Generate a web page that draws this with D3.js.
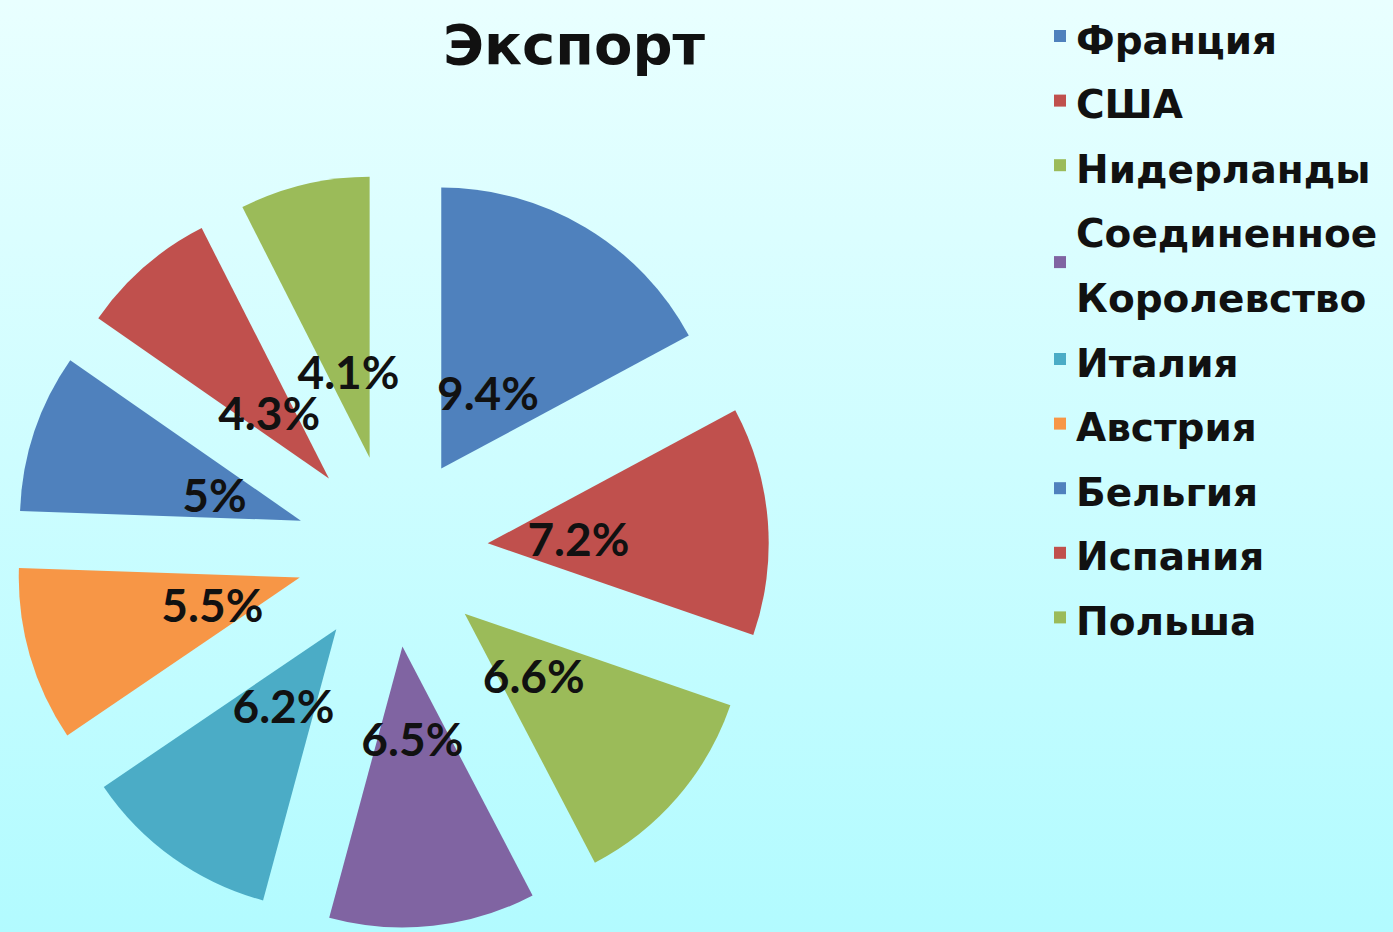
<!DOCTYPE html>
<html>
<head>
<meta charset="utf-8">
<script src="https://cdn.jsdelivr.net/npm/d3@7"></script>
<style>
  body { margin: 0; padding: 0; overflow: hidden; }
</style>
</head>
<body>
<div id="chart"></div>
<script>
const countries = ["Франция", "США", "Нидерланды", "Соединенное Королевство", "Италия", "Австрия", "Бельгия", "Испания", "Польша"];
const shares = [9.4, 7.2, 6.6, 6.5, 6.2, 5.5, 5, 4.3, 4.1];
const palette = ["#4f81bd", "#c0504d", "#9bbb59", "#8064a2", "#4bacc6", "#f79646", "#4f81bd", "#c0504d", "#9bbb59"];

const width = 1393, height = 932;
const cx = 392, cy = 551, radius = 281, explode = 96, labelR = 187;

const svg = d3.select("#chart")
    .append("svg")
    .attr("width", width)
    .attr("height", height);

// background gradient
const grad = svg.append("defs").append("linearGradient")
    .attr("id", "bg")
    .attr("x1", 0).attr("y1", 0).attr("x2", 0).attr("y2", 1);
grad.append("stop").attr("offset", "0%").attr("stop-color", "#e9ffff");
grad.append("stop").attr("offset", "100%").attr("stop-color", "#b2fbff");
svg.append("rect").attr("width", width).attr("height", height).attr("fill", "url(#bg)");

const data = countries.map((c, i) => ({ name: c, value: shares[i], color: palette[i] }));

const pie = d3.pie().value(d => d.value).sort(null);
const arc = d3.arc().innerRadius(0).outerRadius(radius);
const arcs = pie(data);

const g = svg.append("g").attr("transform", `translate(${cx},${cy})`);

const mid = d => (d.startAngle + d.endAngle) / 2;

// exploded slices
g.selectAll("path")
    .data(arcs)
    .join("path")
    .attr("d", arc)
    .attr("fill", d => d.data.color)
    .attr("transform", d => `translate(${explode * Math.sin(mid(d))},${-explode * Math.cos(mid(d))})`);

g.selectAll("text.lbl")
    .data(arcs)
    .join("text")
    .attr("class", "lbl")
    .attr("x", d => labelR * Math.sin(mid(d)))
    .attr("y", d => -labelR * Math.cos(mid(d)) + 2)
    .attr("text-anchor", "middle")
    .attr("dominant-baseline", "central")
    .style("font-family", "Lato, sans-serif")
    .style("font-weight", "bold")
    .style("font-size", "46px")
    .attr("fill", "#111")
    .text(d => d.data.value + "%");

// title
svg.append("text")
    .attr("x", 574)
    .attr("y", 64)
    .attr("text-anchor", "middle")
    .style("font-family", "'DejaVu Sans', sans-serif")
    .style("font-weight", "bold")
    .style("font-size", "56px")
    .attr("fill", "#111")
    .text("Экспорт");

// legend
const legendX = 1054;
const rowH = 64.6;
let y = 40;
data.forEach((d, i) => {
    const words = d.name.split(" ");
    const lines = words.length > 1 ? words : [d.name];
    const blockMid = y + (lines.length - 1) * rowH / 2;
    svg.append("rect")
        .attr("x", legendX)
        .attr("y", blockMid - 10)
        .attr("width", 12)
        .attr("height", 12)
        .attr("fill", d.color);
    lines.forEach((ln, k) => {
        svg.append("text")
            .attr("x", legendX + 22)
            .attr("y", y + k * rowH)
            .attr("dominant-baseline", "central")
            .style("font-family", "'DejaVu Sans', sans-serif")
            .style("font-weight", "bold")
            .style("font-size", "39px")
            .attr("fill", "#111")
            .text(ln);
    });
    y += lines.length * rowH;
});
</script>
</body>
</html>
